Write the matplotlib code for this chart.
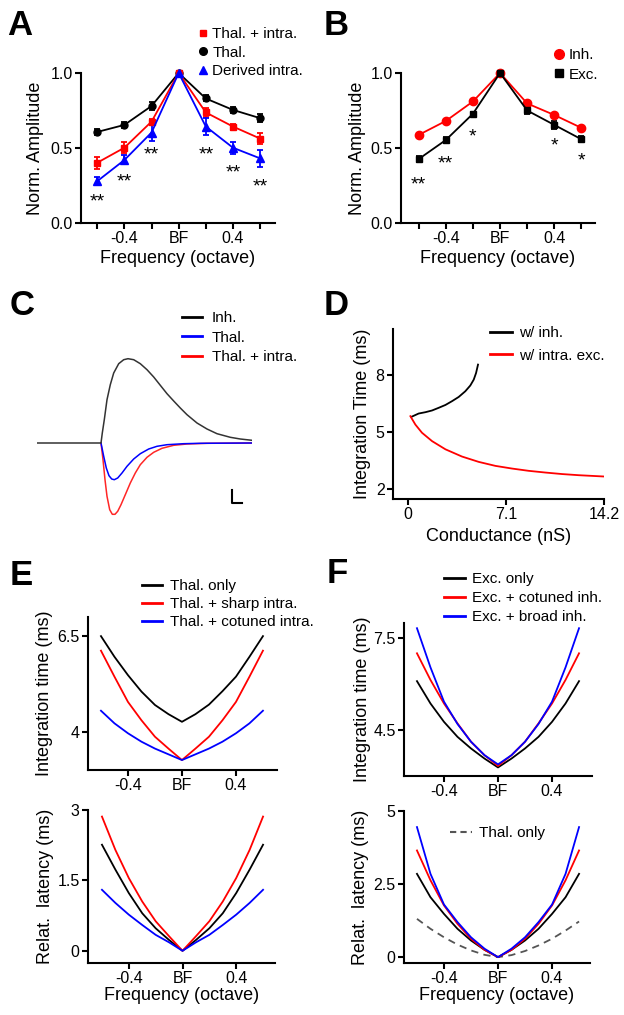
import numpy as np
import matplotlib.pyplot as plt
from matplotlib.lines import Line2D

plt.rcParams['font.family'] = ['Liberation Sans', 'DejaVu Sans']

W, H = 624, 1015

# ---- panel A / B : normalized amplitude vs frequency
freq_pts = [-0.6, -0.4, -0.2, 0.0, 0.2, 0.4, 0.6]
a_thal = [0.607, 0.654, 0.78, 1.0, 0.83, 0.754, 0.699]
a_thal_err = [0.02, 0.02, 0.025, 0.0, 0.02, 0.02, 0.025]
a_thal_intra = [0.402, 0.502, 0.676, 1.0, 0.737, 0.643, 0.563]
a_thal_intra_err = [0.04, 0.035, 0.02, 0.0, 0.03, 0.02, 0.035]
a_derived = [0.279, 0.42, 0.603, 1.0, 0.643, 0.502, 0.431]
a_derived_err = [0.025, 0.03, 0.055, 0.0, 0.055, 0.04, 0.055]
a_star_x = [-0.6, -0.4, -0.2, 0.2, 0.4, 0.6]
a_star_y = [0.185, 0.32, 0.5, 0.5, 0.38, 0.286]
a_star_txt = ['**', '**', '**', '**', '**', '**']

b_inh = [0.587, 0.68, 0.81, 1.0, 0.797, 0.72, 0.634]
b_inh_err = [0.015, 0.01, 0.015, 0.0, 0.01, 0.01, 0.01]
b_exc = [0.426, 0.553, 0.728, 1.0, 0.75, 0.654, 0.558]
b_exc_err = [0.02, 0.02, 0.01, 0.0, 0.025, 0.025, 0.02]
b_star_x = [-0.6, -0.4, -0.2, 0.4, 0.6]
b_star_y = [0.297, 0.44, 0.62, 0.558, 0.46]
b_star_txt = ['**', '**', '*', '*', '*']

# ---- panel C : example traces (time in ms, arbitrary amplitude)
c_inh_t = [-64, 0, 1.3, 3.3, 6, 9.3, 12.7, 17.7, 22.7, 27, 32.7, 39.3, 46, 52.7,
           59.3, 66, 72.7, 79.3, 86, 96, 106, 116, 129.3, 139.3, 151]
c_inh = [0, 0, 10, 23.3, 43.3, 58.3, 70, 79.3, 83.3, 84.3, 83.3, 79.3, 73.3, 66,
         57.7, 49.3, 42, 35, 28.3, 20, 14, 9.3, 5.7, 4, 2.7]
c_thal_t = [0, 2.7, 5.3, 8, 10.7, 13.3, 16.7, 21, 26, 32.7, 39.3, 47.7, 56, 66,
            82.7, 99.3, 151]
c_thal = [0, -13.3, -25, -32.7, -36, -36.7, -35, -30, -23.3, -16, -10.7, -6,
          -3.3, -1.7, -0.7, -0.3, 0]
c_intra_t = [0, 2, 4, 6, 8.7, 11.3, 14, 16.7, 20, 24.3, 29.3, 34.3, 39.3, 46,
             52.7, 61, 72.7, 86, 106, 151]
c_intra = [0, -16.7, -36.7, -53.3, -66.7, -71.3, -71.3, -68.3, -61.7, -51.7,
           -40, -30, -21.7, -14.3, -9.3, -5.3, -2.3, -1, -0.3, 0]

# ---- panel D : integration time vs conductance
d_inh_g = [0.24, 0.77, 1.26, 1.74, 2.22, 2.71, 3.19, 3.67, 4.15, 4.51, 4.76, 4.93, 5.07]
d_inh_t = [5.785, 5.96, 6.03, 6.12, 6.26, 6.41, 6.61, 6.83, 7.13, 7.43, 7.74, 8.09, 8.53]
d_exc_g = [0.17, 0.53, 1.01, 1.74, 2.71, 3.91, 5.12, 6.33, 7.53, 8.74, 9.95, 11.16, 12.37, 14.25]
d_exc_t = [5.82, 5.38, 4.95, 4.51, 4.08, 3.70, 3.42, 3.21, 3.07, 2.95, 2.86, 2.78, 2.72, 2.65]

# ---- panels E / F : model curves
freq_model = [-0.6, -0.5, -0.4, -0.3, -0.2, -0.1, 0.0, 0.1, 0.2, 0.3, 0.4, 0.5, 0.6]
e_int_thal = [6.50, 5.96, 5.48, 5.05, 4.70, 4.46, 4.26, 4.46, 4.71, 5.06, 5.44, 5.96, 6.50]
e_int_sharp = [6.12, 5.44, 4.78, 4.30, 3.87, 3.56, 3.26, 3.56, 3.87, 4.30, 4.78, 5.44, 6.12]
e_int_cotuned = [4.55, 4.22, 3.96, 3.74, 3.56, 3.41, 3.26, 3.41, 3.56, 3.74, 3.96, 4.22, 4.55]
e_lat_thal = [2.26, 1.73, 1.23, 0.80, 0.48, 0.23, 0.0, 0.23, 0.48, 0.80, 1.23, 1.73, 2.26]
e_lat_sharp = [2.86, 2.15, 1.55, 1.05, 0.63, 0.31, 0.0, 0.31, 0.63, 1.05, 1.55, 2.15, 2.86]
e_lat_cotuned = [1.30, 1.02, 0.77, 0.55, 0.34, 0.18, 0.0, 0.18, 0.34, 0.55, 0.77, 1.02, 1.30]

f_int_exc = [6.10, 5.37, 4.77, 4.28, 3.90, 3.57, 3.28, 3.57, 3.90, 4.28, 4.77, 5.37, 6.10]
f_int_cotuned = [7.01, 6.14, 5.37, 4.72, 4.12, 3.68, 3.33, 3.68, 4.12, 4.72, 5.37, 6.14, 7.01]
f_int_broad = [7.83, 6.55, 5.43, 4.70, 4.12, 3.68, 3.38, 3.68, 4.12, 4.70, 5.43, 6.55, 7.83]
f_lat_exc = [2.85, 2.05, 1.48, 0.97, 0.57, 0.25, 0.0, 0.25, 0.57, 0.97, 1.48, 2.05, 2.85]
f_lat_cotuned = [3.65, 2.63, 1.77, 1.14, 0.63, 0.25, 0.0, 0.25, 0.63, 1.14, 1.77, 2.63, 3.65]
f_lat_broad = [4.45, 2.85, 1.80, 1.20, 0.68, 0.29, 0.0, 0.29, 0.68, 1.20, 1.80, 2.85, 4.45]
f_lat_thal = [1.31, 0.97, 0.68, 0.43, 0.23, 0.08, 0.0, 0.07, 0.21, 0.40, 0.63, 0.91, 1.22]

freq_ticks = [-0.4, 0.0, 0.4]
freq_ticklabels = ['-0.4', 'BF', '0.4']

RED = '#ff0000'
BLUE = '#0000ff'
TICK_FS = 11.5
LABEL_FS = 13
LEG_FS = 11
STAR_FS = 14


def px_axes(fig, left, top, right, bottom):
    ax = fig.add_axes([left / W, 1 - bottom / H, (right - left) / W, (bottom - top) / H])
    ax.px = (left, top, right, bottom)
    return ax


def style(ax):
    for s in ['top', 'right']:
        ax.spines[s].set_visible(False)
    for s in ['left', 'bottom']:
        ax.spines[s].set_linewidth(1.5)
    ax.tick_params(direction='out', length=4, width=1.5, labelsize=TICK_FS, pad=2)


def ylabel_at(ax, text, x_px):
    left, top, right, bottom = ax.px
    ax.set_ylabel(text, fontsize=LABEL_FS)
    ax.yaxis.set_label_coords((x_px - left) / (right - left), 0.5)


def xlabel_at(ax, text, y_px):
    left, top, right, bottom = ax.px
    ax.set_xlabel(text, fontsize=LABEL_FS)
    ax.xaxis.set_label_coords(0.5, (bottom - y_px) / (bottom - top))


def legend_at(ax, handles, labels, x_px, y_px, **kw):
    ax.legend(handles, labels, loc='upper left',
              bbox_to_anchor=(x_px / W, 1 - y_px / H),
              bbox_transform=ax.figure.transFigure, frameon=False,
              borderpad=0, borderaxespad=0, fontsize=LEG_FS, **kw)


def stars(ax, xs, ys, txts):
    # ys are the visual centres of the asterisks
    for x, y, t in zip(xs, ys, txts):
        ax.annotate(t, (x, y), xytext=(0, -8), textcoords='offset points',
                    ha='center', va='baseline', fontsize=STAR_FS)


def freq_axis(ax, every=False):
    if every:
        ax.set_xticks(freq_pts)
        ax.set_xticklabels(['', '-0.4', '', 'BF', '', '0.4', ''])
    else:
        ax.set_xticks(freq_ticks)
        ax.set_xticklabels(freq_ticklabels)


fig = plt.figure(figsize=(W / 100, H / 100), dpi=100)

# ================= A
ax = px_axes(fig, 81, 73, 275, 223)
style(ax)
eb = dict(lw=1.3, elinewidth=1.3, capsize=2.5, capthick=1.3, clip_on=False)
ax.errorbar(freq_pts, a_thal, yerr=a_thal_err, color='black', marker='o', ms=5, **eb)
ax.errorbar(freq_pts, a_thal_intra, yerr=a_thal_intra_err, color=RED, marker='s', ms=4.5, **eb)
ax.errorbar(freq_pts, a_derived, yerr=a_derived_err, color=BLUE, marker='^', ms=5.5, **eb)
stars(ax, a_star_x, a_star_y, a_star_txt)
ax.set_xlim(-0.72, 0.71)
ax.set_ylim(0, 1.0)
ax.set_yticks([0, 0.5, 1.0])
ax.set_yticklabels(['0.0', '0.5', '1.0'])
freq_axis(ax, every=True)
ylabel_at(ax, 'Norm. Amplitude', 44)
xlabel_at(ax, 'Frequency (octave)', 250)
h = [Line2D([], [], color=RED, marker='s', ls='none', ms=5),
     Line2D([], [], color='black', marker='o', ls='none', ms=5.5),
     Line2D([], [], color=BLUE, marker='^', ls='none', ms=6)]
legend_at(ax, h, ['Thal. + intra.', 'Thal.', 'Derived intra.'], 197, 27,
          handlelength=0.8, handletextpad=0.2, labelspacing=0.31)

# ================= B
ax = px_axes(fig, 401, 73, 595, 223)
style(ax)
ax.errorbar(freq_pts, b_inh, yerr=b_inh_err, color=RED, marker='o', ms=6, **eb)
ax.errorbar(freq_pts, b_exc, yerr=b_exc_err, color='black', marker='s', ms=5, **eb)
stars(ax, b_star_x, b_star_y, b_star_txt)
ax.set_xlim(-0.73, 0.70)
ax.set_ylim(0, 1.0)
ax.set_yticks([0, 0.5, 1.0])
ax.set_yticklabels(['0.0', '0.5', '1.0'])
freq_axis(ax, every=True)
ylabel_at(ax, 'Norm. Amplitude', 366)
xlabel_at(ax, 'Frequency (octave)', 250)
h = [Line2D([], [], color=RED, marker='o', ls='none', ms=7),
     Line2D([], [], color='black', marker='s', ls='none', ms=5.5)]
legend_at(ax, h, ['Inh.', 'Exc.'], 553, 48,
          handlelength=0.8, handletextpad=0.2, labelspacing=0.37)

# ================= C
ax = px_axes(fig, 37, 340, 252, 530)
ax.plot(c_intra_t, c_intra, color=RED, lw=1.1, alpha=0.85)
ax.plot(c_thal_t, c_thal, color=BLUE, lw=1.1)
ax.plot(c_inh_t, c_inh, color='#333333', lw=1.1)
# scale bar
sb_x, sb_y, sb_w, sb_h = 131, -60, 10, 13
ax.plot([sb_x, sb_x, sb_x + sb_w], [sb_y + sb_h, sb_y, sb_y], color='black', lw=1.5)
ax.set_xlim(-64, 151)
ax.set_ylim(-87, 103)
ax.axis('off')
h = [Line2D([], [], color='black', lw=2),
     Line2D([], [], color=BLUE, lw=2),
     Line2D([], [], color=RED, lw=2)]
legend_at(ax, h, ['Inh.', 'Thal.', 'Thal. + intra.'], 182, 311,
          handlelength=1.3, handletextpad=0.65, labelspacing=0.37)

# ================= D
ax = px_axes(fig, 393, 329, 604, 499)
style(ax)
ax.plot(d_inh_g, d_inh_t, color='black', lw=1.3)
ax.plot(d_exc_g, d_exc_t, color=RED, lw=1.3)
ax.set_xlim(-1.09, 14.2)
ax.set_ylim(1.47, 10.4)
ax.set_xticks([0, 7.1, 14.2])
ax.set_xticklabels(['0', '7.1', '14.2'])
ax.set_yticks([2, 5, 8])
ylabel_at(ax, 'Integration Time (ms)', 371)
xlabel_at(ax, 'Conductance (nS)', 528)
h = [Line2D([], [], color='black', lw=2), Line2D([], [], color=RED, lw=2)]
legend_at(ax, h, ['w/ inh.', 'w/ intra. exc.'], 490, 326,
          handlelength=1.44, handletextpad=0.46, labelspacing=0.57)

# ================= E top
ax = px_axes(fig, 88, 617, 277, 770)
style(ax)
ax.plot(freq_model, e_int_thal, color='black', lw=1.3)
ax.plot(freq_model, e_int_sharp, color=RED, lw=1.3)
ax.plot(freq_model, e_int_cotuned, color=BLUE, lw=1.3)
ax.set_xlim(-0.696, 0.704)
ax.set_ylim(3.0, 7.0)
ax.set_yticks([4, 6.5])
ax.set_yticklabels(['4', '6.5'])
freq_axis(ax)
ylabel_at(ax, 'Integration time (ms)', 53)
h = [Line2D([], [], color='black', lw=2), Line2D([], [], color=RED, lw=2),
     Line2D([], [], color=BLUE, lw=2)]
legend_at(ax, h, ['Thal. only', 'Thal. + sharp intra.', 'Thal. + cotuned intra.'],
          142, 579, handlelength=1.3, handletextpad=0.52, labelspacing=0.27)

# ================= E bottom
ax = px_axes(fig, 88, 810, 275, 963)
style(ax)
ax.plot(freq_model, e_lat_thal, color='black', lw=1.3)
ax.plot(freq_model, e_lat_sharp, color=RED, lw=1.3)
ax.plot(freq_model, e_lat_cotuned, color=BLUE, lw=1.3)
ax.set_xlim(-0.704, 0.689)
ax.set_ylim(-0.26, 3.0)
ax.set_yticks([0, 1.5, 3])
ax.set_yticklabels(['0', '1.5', '3'])
freq_axis(ax)
ylabel_at(ax, 'Relat.  latency (ms)', 54)
xlabel_at(ax, 'Frequency (octave)', 987)

# ================= F top
ax = px_axes(fig, 404, 623, 592, 776)
style(ax)
ax.plot(freq_model, f_int_exc, color='black', lw=1.3)
ax.plot(freq_model, f_int_cotuned, color=RED, lw=1.3)
ax.plot(freq_model, f_int_broad, color=BLUE, lw=1.3)
ax.set_xlim(-0.696, 0.696)
ax.set_ylim(3.0, 8.0)
ax.set_yticks([4.5, 7.5])
freq_axis(ax)
ylabel_at(ax, 'Integration time (ms)', 371)
h = [Line2D([], [], color='black', lw=2), Line2D([], [], color=RED, lw=2),
     Line2D([], [], color=BLUE, lw=2)]
legend_at(ax, h, ['Exc. only', 'Exc. + cotuned inh.', 'Exc. + broad inh.'],
          444, 572, handlelength=1.37, handletextpad=0.46, labelspacing=0.34)

# ================= F bottom
ax = px_axes(fig, 404, 811, 590, 963)
style(ax)
ax.plot(freq_model, f_lat_thal, color='#555555', lw=1.3, ls=(0, (4, 3)))
ax.plot(freq_model, f_lat_exc, color='black', lw=1.3)
ax.plot(freq_model, f_lat_cotuned, color=RED, lw=1.3)
ax.plot(freq_model, f_lat_broad, color=BLUE, lw=1.3)
ax.set_xlim(-0.696, 0.681)
ax.set_ylim(-0.2, 5.0)
ax.set_yticks([0, 2.5, 5])
ax.set_yticklabels(['0', '2.5', '5'])
freq_axis(ax)
ylabel_at(ax, 'Relat.  latency (ms)', 369)
xlabel_at(ax, 'Frequency (octave)', 987)
h = [Line2D([], [], color='#555555', lw=1.5, ls=(0, (3, 2)))]
legend_at(ax, h, ['Thal. only'], 450, 826, handlelength=1.44, handletextpad=0.46)

# panel letters
for letter, x, y in [('A', 7, 35), ('B', 324, 35), ('C', 10, 315),
                     ('D', 324, 315), ('E', 10, 585), ('F', 327, 583)]:
    fig.text(x / W, 1 - y / H, letter, fontsize=25, fontweight='bold', va='baseline')

fig.savefig('out.png', dpi=100)
